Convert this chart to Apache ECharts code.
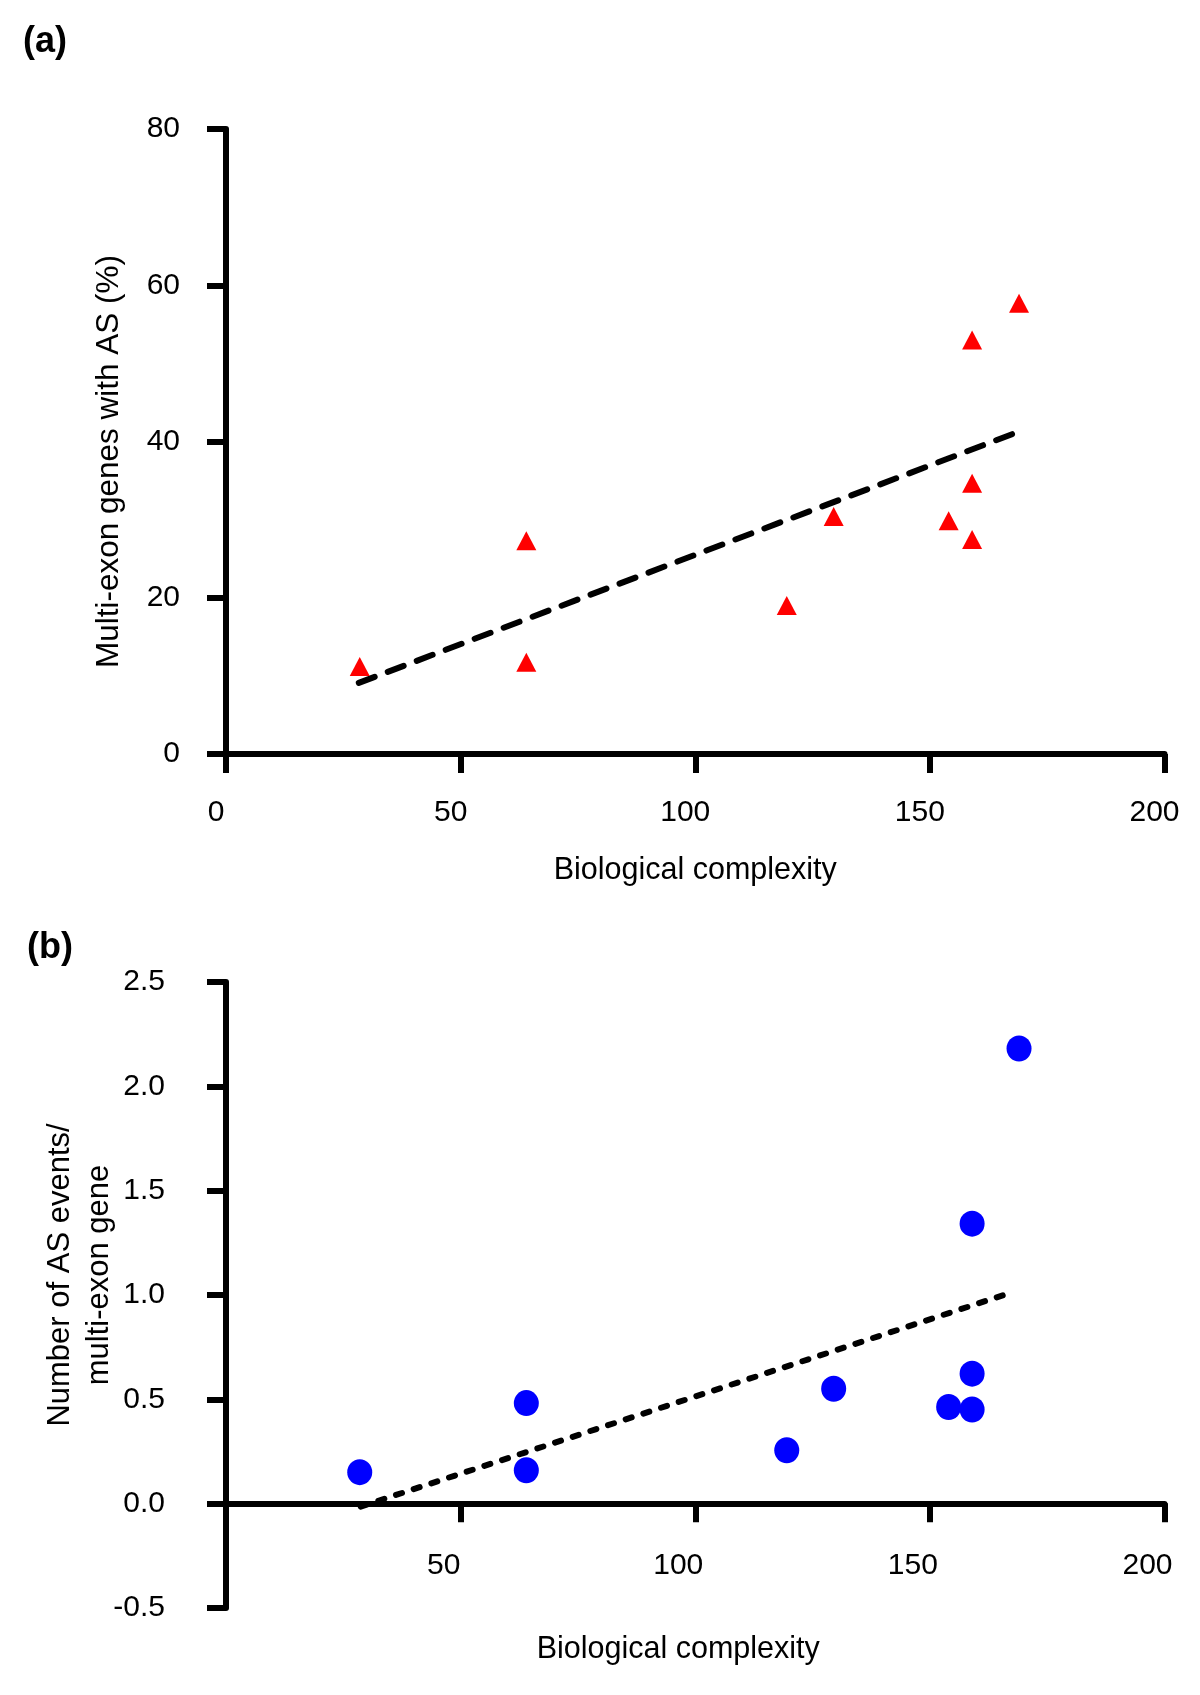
<!DOCTYPE html>
<html>
<head>
<meta charset="utf-8">
<script src="https://cdn.jsdelivr.net/npm/echarts@6/dist/echarts.min.js"></script>
<style>
  html, body { margin: 0; padding: 0; background: #ffffff; }
  #chart { width: 1200px; height: 1695px; }
</style>
</head>
<body>
<div id="chart"></div>
<script>
// ---- Data ----
const complexity = [28.5, 64, 64, 119.5, 129.5, 154, 159, 159, 159, 169];
const multiExonAS = [11.2, 27.3, 11.75, 19.0, 30.4, 29.85, 53.0, 34.65, 27.45, 57.7];
const asEventsPerGene = [0.151, 0.482, 0.16, 0.256, 0.551, 0.463, 1.342, 0.623, 0.451, 2.181];

const trendAX = [28.3, 169.1];
const trendAY = [9.1, 41.3];
const trendBX = [28.7, 166.7];
const trendBY = [-0.014, 1.007];

const xTicks = [0, 50, 100, 150, 200];
const yTicksA = [0, 20, 40, 60, 80];
const yTicksB = [-0.5, 0.0, 0.5, 1.0, 1.5, 2.0, 2.5];

const xTitle = 'Biological complexity';
const yTitleA = 'Multi-exon genes with AS (%)';
const yTitleB = 'Number of AS events/\nmulti-exon gene';

// ---- Styles ----
const FONT = '"Liberation Sans", Arial, Helvetica, sans-serif';
const axisLineStyle = { color: '#000', width: 6 };
const tickStyle = { show: true, inside: false, length: 19, lineStyle: { color: '#000', width: 6 } };

const pairs = (xs, ys) => xs.map((x, i) => [x, ys[i]]);

const chart = echarts.init(document.getElementById('chart'), null, { renderer: 'canvas' });

const xMin = xTicks[0], xMax = xTicks[xTicks.length - 1];

const option = {
  backgroundColor: '#ffffff',
  animation: false,
  title: [
    { text: '(a)', left: 23, top: 24, padding: 0,
      textStyle: { fontFamily: FONT, fontSize: 36, fontWeight: 'bold', color: '#000' } },
    { text: '(b)', left: 27, top: 930, padding: 0,
      textStyle: { fontFamily: FONT, fontSize: 36, fontWeight: 'bold', color: '#000' } }
  ],
  grid: [
    // panel (a)
    { left: 226, top: 129, width: 938.5, height: 625, containLabel: false, outerBoundsMode: 'none' },
    // panel (b): data area spanning -0.5 .. 2.5
    { left: 226, top: 982, width: 938.5, height: 626, containLabel: false, outerBoundsMode: 'none' },
    // panel (b): x axis drawn at the zero line
    { left: 226, top: 982, width: 938.5, height: 521.3, containLabel: false, outerBoundsMode: 'none' }
  ],
  xAxis: [
    {
      gridIndex: 0, type: 'value', min: xMin, max: xMax, interval: 50,
      splitLine: { show: false },
      axisLine: { show: true, onZero: false, lineStyle: axisLineStyle },
      axisTick: tickStyle,
      axisLabel: { margin: 44, fontFamily: FONT, fontSize: 30, color: '#000', padding: [0, 20, 0, 0] },
      name: xTitle, nameLocation: 'middle', nameGap: 101, nameMoveOverlap: false,
      nameTextStyle: { fontFamily: FONT, fontSize: 30.5, color: '#000' }
    },
    {
      gridIndex: 1, type: 'value', min: xMin, max: xMax, interval: 50, show: false,
      splitLine: { show: false }
    },
    {
      gridIndex: 2, type: 'value', min: xMin, max: xMax, interval: 50,
      splitLine: { show: false },
      axisLine: { show: true, onZero: false, lineStyle: axisLineStyle },
      axisTick: tickStyle,
      axisLabel: { margin: 47, fontFamily: FONT, fontSize: 30, color: '#000', padding: [0, 34, 0, 0],
                   formatter: v => (v === 0 ? '' : String(v)) },
      name: xTitle, nameLocation: 'middle', nameGap: 131, nameMoveOverlap: false,
      nameTextStyle: { fontFamily: FONT, fontSize: 30.5, color: '#000', padding: [0, 34, 0, 0] }
    }
  ],
  yAxis: [
    {
      gridIndex: 0, type: 'value',
      min: yTicksA[0], max: yTicksA[yTicksA.length - 1], interval: 20,
      splitLine: { show: false },
      axisLine: { show: true, onZero: false, lineStyle: axisLineStyle },
      axisTick: tickStyle,
      axisLabel: { margin: 46, fontFamily: FONT, fontSize: 30, color: '#000' },
      name: yTitleA, nameLocation: 'middle', nameGap: 101, nameMoveOverlap: false,
      nameTextStyle: { fontFamily: FONT, fontSize: 31.5, color: '#000', padding: [0, 40, 0, 0] }
    },
    {
      gridIndex: 1, type: 'value',
      min: yTicksB[0], max: yTicksB[yTicksB.length - 1], interval: 0.5,
      splitLine: { show: false },
      axisLine: { show: true, onZero: false, lineStyle: axisLineStyle },
      axisTick: tickStyle,
      axisLabel: { margin: 61, fontFamily: FONT, fontSize: 30, color: '#000',
                   formatter: v => v.toFixed(1) },
      name: yTitleB, nameLocation: 'middle', nameGap: 107, nameMoveOverlap: false,
      nameTextStyle: { fontFamily: FONT, fontSize: 31, color: '#000', lineHeight: 39,
                       padding: [0, 0, 0, 40] }
    },
    {
      gridIndex: 2, type: 'value', min: 0, max: 1, show: false,
      splitLine: { show: false }
    }
  ],
  series: [
    {
      type: 'line', xAxisIndex: 0, yAxisIndex: 0, silent: true,
      data: pairs(trendAX, trendAY), symbol: 'none', z: 3,
      lineStyle: { color: '#000', width: 6, type: [17, 14], cap: 'round' }
    },
    {
      type: 'scatter', xAxisIndex: 0, yAxisIndex: 0,
      data: pairs(complexity, multiExonAS),
      symbol: 'triangle', symbolSize: [20, 19],
      itemStyle: { color: '#ff0000', opacity: 1 }, z: 4
    },
    {
      type: 'line', xAxisIndex: 1, yAxisIndex: 1, silent: true,
      data: pairs(trendBX, trendBY), symbol: 'none', z: 3,
      lineStyle: { color: '#000', width: 6, type: [6.3, 12.3], cap: 'round' }
    },
    {
      type: 'scatter', xAxisIndex: 1, yAxisIndex: 1,
      data: pairs(complexity, asEventsPerGene),
      symbol: 'circle', symbolSize: [25, 26],
      itemStyle: { color: '#0000ff', opacity: 1 }, z: 4
    }
  ]
};

chart.setOption(option);
</script>
</body>
</html>
